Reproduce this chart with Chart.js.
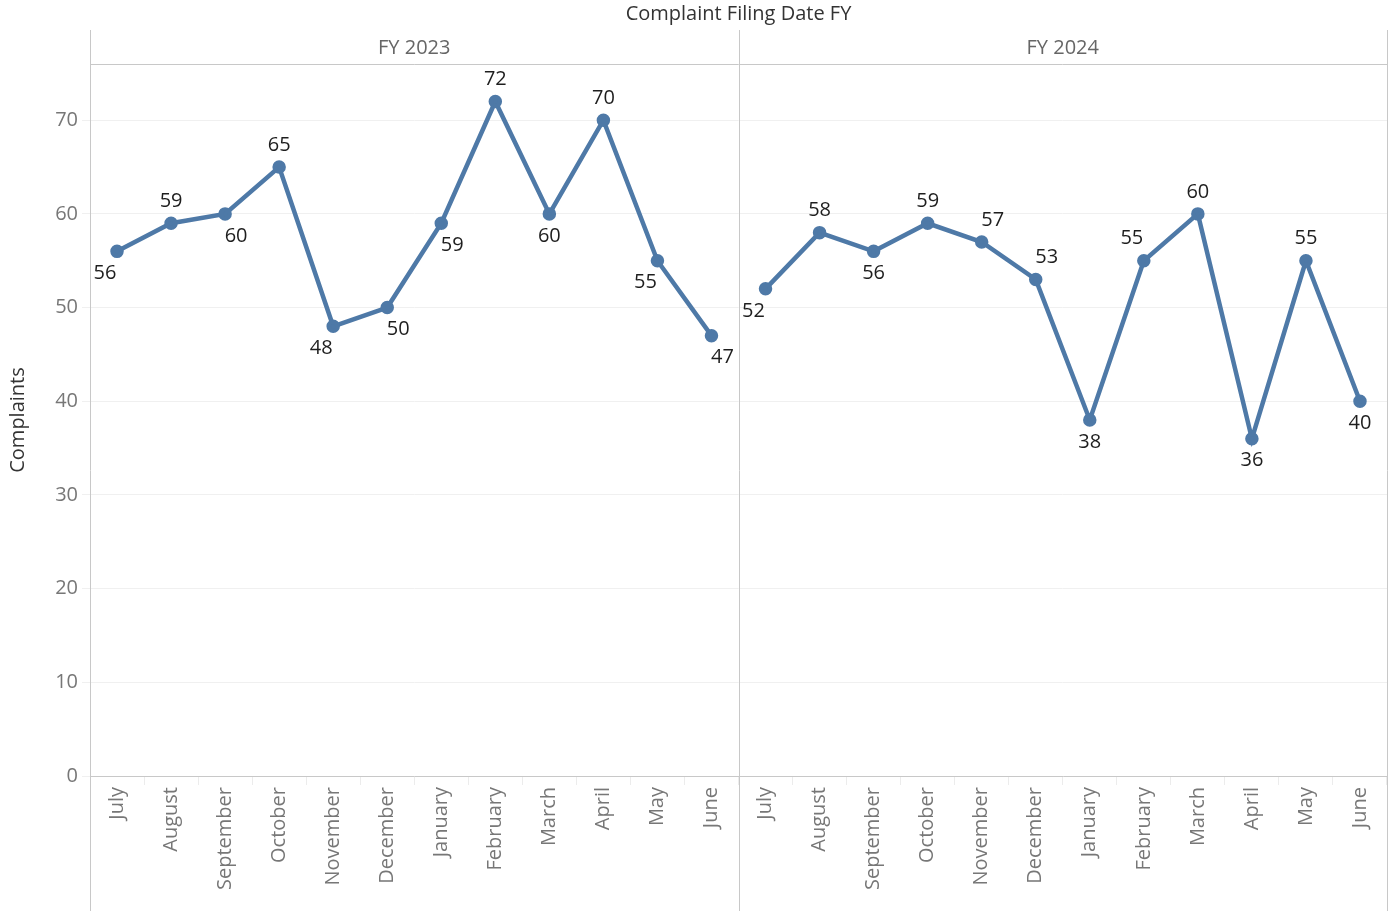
<!DOCTYPE html>
<html>
<head>
<meta charset="utf-8">
<script src="https://cdn.jsdelivr.net/npm/chart.js@4"></script>
<style>
    html, body { margin: 0; padding: 0; background: #fff; overflow: hidden; }
    #wrap { width: 1392px; height: 911px; overflow: hidden; }
</style>
</head>
<body>
<div id="wrap"><canvas id="complaintsChart" width="1396" height="911"></canvas></div>
<script>
const months = ['July', 'August', 'September', 'October', 'November', 'December',
    'January', 'February', 'March', 'April', 'May', 'June'];
const fiscalYears = ['FY 2023', 'FY 2024'];
const fy2023 = [56, 59, 60, 65, 48, 50, 59, 72, 60, 70, 55, 47];
const fy2024 = [52, 58, 56, 59, 57, 53, 38, 55, 60, 36, 55, 40];
const yTicks = [0, 10, 20, 30, 40, 50, 60, 70];

// where each value label sits relative to its point (a = above, b = below, l/r = nudge)
const labelSide = [
    'bl', 'a', 'br', 'a', 'bl', 'br', 'br', 'a', 'b', 'a', 'bl', 'br',
    'bl', 'a', 'b', 'a', 'ar', 'ar', 'b', 'al', 'a', 'b', 'a', 'b'
];

const blue = '#4e79a7';
const font = '"Open Sans", "Noto Sans", sans-serif';
const empty = months.map(() => null);

// panel frame, headers and value labels, Tableau style
const panelPlugin = {
    id: 'panels',
    afterDraw(chart) {
        const ctx = chart.ctx;
        const area = chart.chartArea;
        const x = chart.scales.x;
        const split = (x.getPixelForValue(11) + x.getPixelForValue(12)) / 2;
        ctx.save();
        ctx.strokeStyle = '#c8c8c8';
        ctx.lineWidth = 1;
        [area.left, split, area.right].forEach(px => {
            ctx.beginPath();
            ctx.moveTo(Math.round(px) + 0.5, 30);
            ctx.lineTo(Math.round(px) + 0.5, chart.height);
            ctx.stroke();
        });
        ctx.beginPath();
        ctx.moveTo(area.left, area.top + 0.5);
        ctx.lineTo(area.right, area.top + 0.5);
        ctx.stroke();

        ctx.fillStyle = '#666';
        ctx.font = '20px ' + font;
        ctx.textAlign = 'center';
        ctx.textBaseline = 'middle';
        ctx.fillText(fiscalYears[0], (area.left + split) / 2, 48);
        ctx.fillText(fiscalYears[1], (split + area.right) / 2, 48);

        ctx.fillStyle = '#333';
        ctx.font = '500 20px ' + font;
        ctx.fillText('Complaint Filing Date FY', (area.left + area.right) / 2, 14);

        ctx.fillStyle = '#1e1e1e';
        ctx.font = '20px ' + font;
        chart.data.datasets.forEach((ds, di) => {
            chart.getDatasetMeta(di).data.forEach((pt, i) => {
                const v = ds.data[i];
                if (v === null) return;
                const side = labelSide[i];
                let dx = 0;
                if (side.includes('l')) dx = -12;
                if (side.includes('r')) dx = 11;
                const dy = side[0] === 'a' ? -22 : 22;
                ctx.fillText(String(v), pt.x + dx, pt.y + dy);
            });
        });
        ctx.restore();
    }
};

const chart = new Chart(document.getElementById('complaintsChart'), {
    type: 'line',
    data: {
        labels: months.concat(months),
        datasets: [{
            label: fiscalYears[0],
            data: fy2023.concat(empty),
            borderColor: blue,
            backgroundColor: blue,
            borderWidth: 4.5,
            pointRadius: 4.5,
            fill: false,
            spanGaps: false
        }, {
            label: fiscalYears[1],
            data: empty.concat(fy2024),
            borderColor: blue,
            backgroundColor: blue,
            borderWidth: 4.5,
            pointRadius: 4.5,
            fill: false,
            spanGaps: false
        }]
    },
    options: {
        responsive: false,
        maintainAspectRatio: false,
        animation: false,
        layout: { padding: { top: 64, right: 4, left: 0, bottom: 0 } },
        plugins: {
            legend: { display: false },
            tooltip: { enabled: false }
        },
        scales: {
            x: {
                offset: true,
                grid: {
                    offset: true,
                    drawOnChartArea: false,
                    tickLength: 9,
                    tickColor: '#ececec'
                },
                border: { color: '#c8c8c8' },
                ticks: {
                    autoSkip: false,
                    maxRotation: 90,
                    minRotation: 90,
                    color: '#777',
                    padding: 2,
                    font: { family: font, size: 20 }
                },
                afterFit(scale) { scale.height = 135; }
            },
            y: {
                min: 0,
                max: 76,
                afterBuildTicks(scale) {
                    scale.ticks = yTicks.map(v => ({ value: v }));
                },
                grid: {
                    color: '#f0f0f0',
                    tickLength: 8,
                    tickColor: '#f0f0f0'
                },
                border: { display: false },
                ticks: {
                    color: '#777',
                    padding: 4,
                    font: { family: font, size: 20 }
                },
                title: {
                    display: true,
                    text: 'Complaints',
                    color: '#333',
                    padding: { top: 6, bottom: 0 },
                    font: { family: font, size: 20, weight: '500' }
                },
                afterFit(scale) { scale.width = 90; }
            }
        }
    },
    plugins: [panelPlugin]
});
</script>
</body>
</html>
